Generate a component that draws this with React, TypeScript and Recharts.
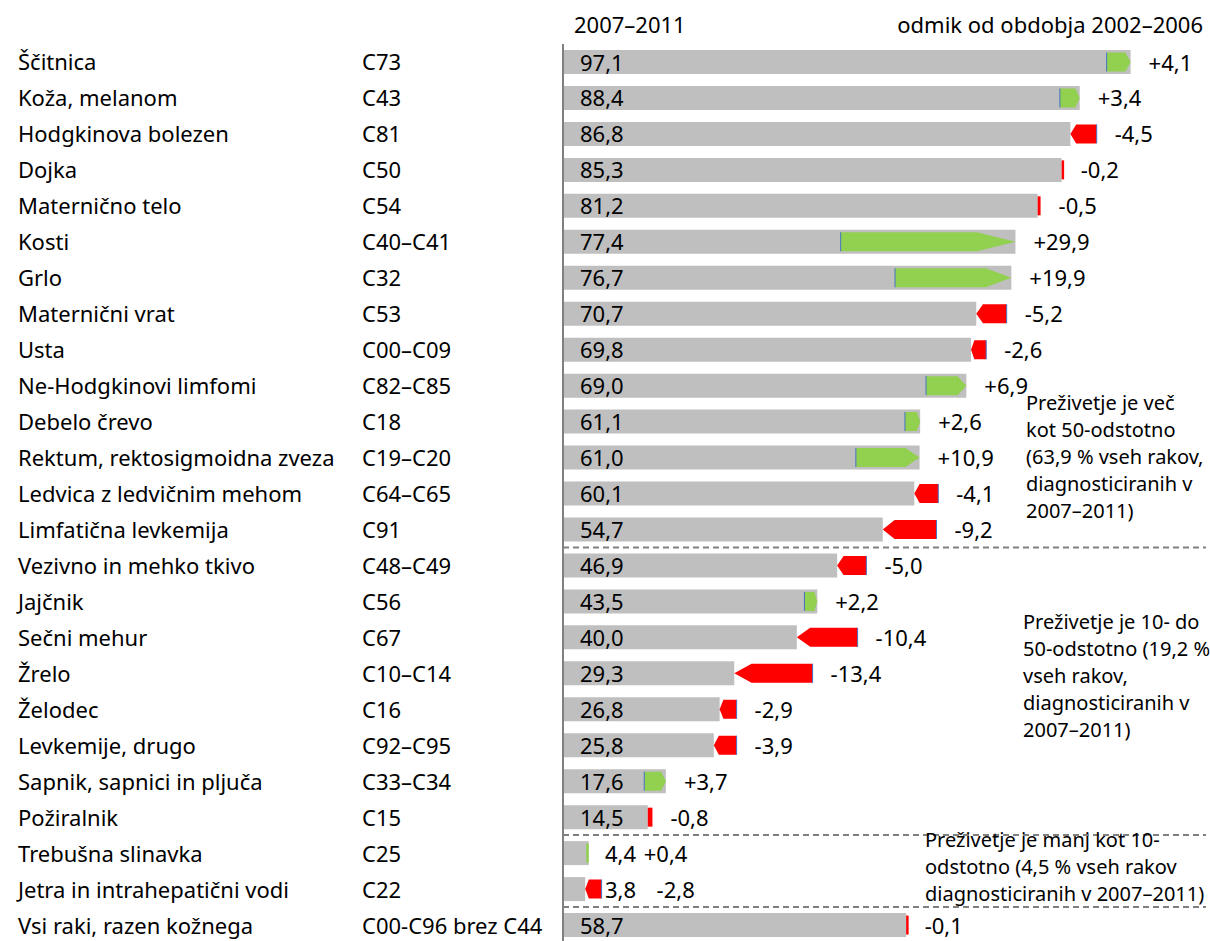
import React from 'react';
import { BarChart, Bar, XAxis, YAxis, ReferenceLine } from 'recharts';

// --- data ---
const sites = [
  'Ščitnica', 'Koža, melanom', 'Hodgkinova bolezen', 'Dojka', 'Maternično telo',
  'Kosti', 'Grlo', 'Maternični vrat', 'Usta', 'Ne-Hodgkinovi limfomi',
  'Debelo črevo', 'Rektum, rektosigmoidna zveza', 'Ledvica z ledvičnim mehom', 'Limfatična levkemija',
  'Vezivno in mehko tkivo', 'Jajčnik', 'Sečni mehur', 'Žrelo', 'Želodec',
  'Levkemije, drugo', 'Sapnik, sapnici in pljuča', 'Požiralnik',
  'Trebušna slinavka', 'Jetra in intrahepatični vodi', 'Vsi raki, razen kožnega',
];
const codes = [
  'C73', 'C43', 'C81', 'C50', 'C54', 'C40–C41', 'C32', 'C53', 'C00–C09', 'C82–C85',
  'C18', 'C19–C20', 'C64–C65', 'C91', 'C48–C49', 'C56', 'C67', 'C10–C14', 'C16',
  'C92–C95', 'C33–C34', 'C15', 'C25', 'C22', 'C00-C96 brez C44',
];
const survival = [
  97.1, 88.4, 86.8, 85.3, 81.2, 77.4, 76.7, 70.7, 69.8, 69.0,
  61.1, 61.0, 60.1, 54.7, 46.9, 43.5, 40.0, 29.3, 26.8, 25.8,
  17.6, 14.5, 4.4, 3.8, 58.7,
];
const change = [
  4.1, 3.4, -4.5, -0.2, -0.5, 29.9, 19.9, -5.2, -2.6, 6.9,
  2.6, 10.9, -4.1, -9.2, -5.0, 2.2, -10.4, -13.4, -2.9, -3.9,
  3.7, -0.8, 0.4, -2.8, -0.1,
];
// group boundaries (dashed lines drawn below these rows)
const groupEnds = ['Limfatična levkemija', 'Požiralnik', 'Jetra in intrahepatični vodi'];

const FONT = '"Noto Sans", "Open Sans", sans-serif';
const FS = 22;
const GRAY = '#bfbfbf';
const GREEN = '#92d050';
const RED = '#ff0000';
const BLUE = '#4472c4';

const rows = sites.map((name, i) => {
  const value = survival[i];
  const before = +(value - change[i]).toFixed(1);
  return {
    name,
    code: codes[i],
    value,
    change: change[i],
    span: [Math.min(before, value), Math.max(before, value)],
  };
});

const fmt = (v: number) => v.toFixed(1).replace('.', ',');

const RowTick = (props: any) => {
  const { y, payload, index } = props;
  return (
    <g fontFamily={FONT} fontSize={FS} fill="#000">
      <text x={18} y={y} dy={8.5}>{payload.value}</text>
      <text x={362} y={y} dy={8.5}>{codes[index]}</text>
    </g>
  );
};

const ArrowShape = (props: any) => {
  const { x, y, width, height, payload } = props;
  const up = payload.change > 0;
  const fill = up ? GREEN : RED;
  const h = 19;
  const cy = y + height / 2;
  const top = cy - h / 2;
  const bot = cy + h / 2;
  if (width < 6) {
    const w = Math.max(width, 2.5);
    return <rect x={up ? x + width - w : x} y={top} width={w} height={h} fill={fill} />;
  }
  const tip = Math.min(width * 0.22, 45);
  const pts = up
    ? [[x, top], [x + width - tip, top], [x + width, cy], [x + width - tip, bot], [x, bot]]
    : [[x + width, top], [x + tip, top], [x, cy], [x + tip, bot], [x + width, bot]];
  const base = up ? x : x + width;
  return (
    <g>
      <polygon points={pts.map((p) => p.join(',')).join(' ')} fill={fill} />
      <line x1={base} x2={base} y1={top} y2={bot} stroke={BLUE} strokeWidth={1} />
    </g>
  );
};

const ValueLabel = (props: any) => {
  const { x, y, height, value } = props;
  const small = value < 10;
  return (
    <text x={small ? x + 42 : x + 17} y={y + height / 2} dy={8.5} fontFamily={FONT} fontSize={FS} fill="#000">
      {fmt(value)}
    </text>
  );
};

const ChangeLabel = (props: any) => {
  const { x, y, width, height, index } = props;
  const d = change[index];
  const small = survival[index] < 10;
  return (
    <text x={x + width + (small ? 55 : 18)} y={y + height / 2} dy={8.5} fontFamily={FONT} fontSize={FS} fill="#000">
      {(d > 0 ? '+' : '') + fmt(d)}
    </text>
  );
};

const note = (left: number, top: number, lines: string[]) => (
  <div style={{ position: 'absolute', left, top, fontFamily: FONT, fontSize: 20, lineHeight: '27px', color: '#000', whiteSpace: 'nowrap' }}>
    {lines.map((l) => <div key={l}>{l}</div>)}
  </div>
);

export default function App() {
  return (
    <div style={{ position: 'absolute', left: 0, top: 0, width: 1210, height: 941, overflow: 'hidden', background: '#fff' }}>
      <div style={{ position: 'absolute', left: 574, top: 9, fontFamily: FONT, fontSize: FS }}>2007–2011</div>
      <div style={{ position: 'absolute', right: 7, top: 9, fontFamily: FONT, fontSize: FS }}>odmik od obdobja 2002–2006</div>
      <BarChart
        layout="vertical"
        width={1210}
        height={945}
        data={rows}
        margin={{ top: 44, right: 4, left: 0, bottom: 2 }}
        barGap={-24}
      >
        <XAxis type="number" domain={[0, 110]} hide />
        <YAxis
          type="category"
          dataKey="name"
          width={563}
          interval={0}
          tickLine={false}
          axisLine={{ stroke: '#808080', strokeWidth: 2 }}
          tick={<RowTick />}
        />
        {groupEnds.map((g) => (
          <ReferenceLine key={g} y={g} position="end" stroke="#808080" strokeWidth={2} strokeDasharray="6 4" />
        ))}
        <Bar dataKey="value" fill={GRAY} barSize={24} isAnimationActive={false} label={<ValueLabel />} />
        <Bar dataKey="span" barSize={24} isAnimationActive={false} shape={<ArrowShape />} label={<ChangeLabel />} />
      </BarChart>
      {note(1026, 389, ['Preživetje je več', 'kot 50-odstotno', '(63,9 % vseh rakov,', 'diagnosticiranih v', '2007–2011)'])}
      {note(1023, 608, ['Preživetje je 10- do', '50-odstotno  (19,2 %', 'vseh rakov,', 'diagnosticiranih v', '2007–2011)'])}
      {note(925, 826, ['Preživetje je manj kot 10-', 'odstotno (4,5 % vseh rakov', 'diagnosticiranih v 2007–2011)'])}
    </div>
  );
}
